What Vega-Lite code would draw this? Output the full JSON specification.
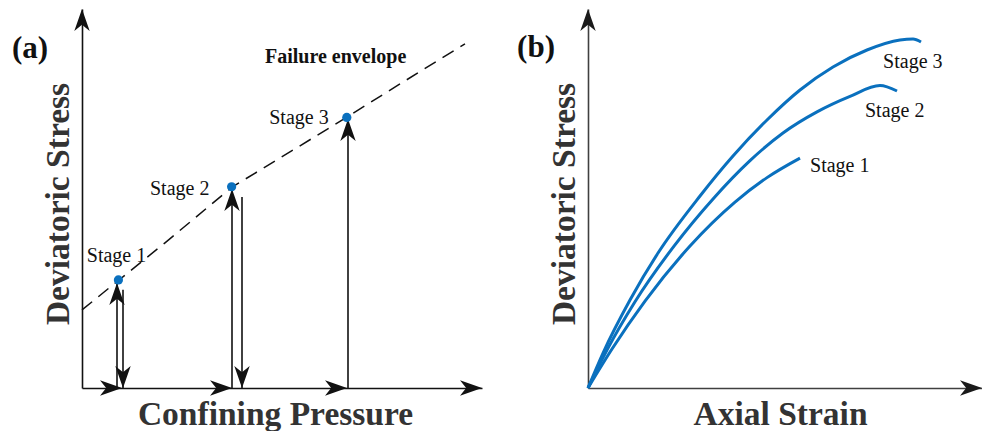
{
  "$schema": "https://vega.github.io/schema/vega-lite/v6.json",
  "padding": {"left": 12, "top": 9, "right": 0, "bottom": 0},
  "background": "white",
  "bounds": "flush",
  "spacing": 106,
  "config": {
    "view": {"stroke": null},
    "font": "Liberation Serif",
    "axis": {"grid": false, "ticks": false, "labels": false, "domainColor": "#111", "domainWidth": 1.6,
      "titleFont": "Liberation Serif", "titleFontSize": 33.5, "titleFontWeight": "bold", "titleColor": "#333"}
  },
  "datasets": {
    "envelope": [
      {"x": 0, "y": 20.6}, {"x": 9.25, "y": 28.5}, {"x": 20.75, "y": 38.3}, {"x": 37.5, "y": 53.0},
      {"x": 54.5, "y": 63.9}, {"x": 66.25, "y": 71.5}, {"x": 79, "y": 79.9}, {"x": 95.75, "y": 90.8}
    ],
    "dots": [
      {"stage": "Stage 1", "x": 9.1, "y": 28.5},
      {"stage": "Stage 2", "x": 37.4, "y": 53.1},
      {"stage": "Stage 3", "x": 66.2, "y": 71.4}
    ],
    "segA": [
      {"x": 8.75, "y": 0, "x2": 8.75, "y2": 27.7},
      {"x": 10.25, "y": 25.9, "x2": 10.25, "y2": 0},
      {"x": 37.5, "y": 0, "x2": 37.5, "y2": 52.5},
      {"x": 40, "y": 50.4, "x2": 40, "y2": 0},
      {"x": 66.5, "y": 0, "x2": 66.5, "y2": 71.0}
    ],
    "headsA": [
      {"dir": "up", "x": 8.75, "y": 27.7},
      {"dir": "up", "x": 37.5, "y": 52.5},
      {"dir": "up", "x": 66.5, "y": 71.0},
      {"dir": "up", "x": 0, "y": 100},
      {"dir": "down", "x": 10.25, "y": 0},
      {"dir": "down", "x": 40, "y": 0},
      {"dir": "right", "x": 10, "y": 0},
      {"dir": "right", "x": 37.5, "y": 0},
      {"dir": "right", "x": 66.25, "y": 0},
      {"dir": "right", "x": 100, "y": 0}
    ],
    "labelsA": [
      {"label": "Stage 1", "x": 1.2, "y": 33.3},
      {"label": "Stage 2", "x": 17, "y": 50.9},
      {"label": "Stage 3", "x": 46.8, "y": 69.6}
    ],
    "noteA": [{"label": "Failure envelope", "x": 45.75, "y": 85.7}],
    "tagA": [{"label": "(a)", "x": -17.5, "y": 87.2}],
    "curves": [
      {"stage": "Stage 1", "x": 0, "y": 0}, {"stage": "Stage 1", "x": 6.09, "y": 10.29},
      {"stage": "Stage 1", "x": 14.47, "y": 22.93}, {"stage": "Stage 1", "x": 25.89, "y": 37.47},
      {"stage": "Stage 1", "x": 37.31, "y": 49.05}, {"stage": "Stage 1", "x": 45.43, "y": 55.51},
      {"stage": "Stage 1", "x": 53.81, "y": 60.66},
      {"stage": "Stage 2", "x": 0, "y": 0}, {"stage": "Stage 2", "x": 4.82, "y": 10.03},
      {"stage": "Stage 2", "x": 11.93, "y": 22.77}, {"stage": "Stage 2", "x": 21.83, "y": 37.44},
      {"stage": "Stage 2", "x": 31.73, "y": 49.89}, {"stage": "Stage 2", "x": 41.12, "y": 60.0},
      {"stage": "Stage 2", "x": 49.49, "y": 67.28}, {"stage": "Stage 2", "x": 58.12, "y": 72.85},
      {"stage": "Stage 2", "x": 66.5, "y": 76.94}, {"stage": "Stage 2", "x": 74.11, "y": 79.79},
      {"stage": "Stage 2", "x": 78.43, "y": 78.36},
      {"stage": "Stage 3", "x": 0, "y": 0}, {"stage": "Stage 3", "x": 3.81, "y": 9.23},
      {"stage": "Stage 3", "x": 10.66, "y": 23.22}, {"stage": "Stage 3", "x": 17.77, "y": 35.62},
      {"stage": "Stage 3", "x": 28.43, "y": 50.66}, {"stage": "Stage 3", "x": 36.8, "y": 61.21},
      {"stage": "Stage 3", "x": 45.43, "y": 70.71}, {"stage": "Stage 3", "x": 53.81, "y": 78.63},
      {"stage": "Stage 3", "x": 62.18, "y": 84.7}, {"stage": "Stage 3", "x": 70.81, "y": 89.18},
      {"stage": "Stage 3", "x": 79.19, "y": 91.82}, {"stage": "Stage 3", "x": 82.49, "y": 92.08},
      {"stage": "Stage 3", "x": 84.52, "y": 91.29}
    ],
    "headsB": [
      {"dir": "up", "x": 0, "y": 100},
      {"dir": "right", "x": 100, "y": 0}
    ],
    "labelsB": [
      {"label": "Stage 1", "x": 56.35, "y": 57.1},
      {"label": "Stage 2", "x": 70.3, "y": 71.6},
      {"label": "Stage 3", "x": 74.9, "y": 84.35}
    ],
    "tagB": [{"label": "(b)", "x": -18, "y": 87.4}]
  },
  "hconcat": [
    {
      "width": 400,
      "height": 379,
      "encoding": {
        "x": {"field": "x", "type": "quantitative", "scale": {"domain": [0, 100], "nice": false, "zero": false},
          "axis": {"title": "Confining Pressure", "titleBaseline": "alphabetic", "titlePadding": 36, "titleX": 193}},
        "y": {"field": "y", "type": "quantitative", "scale": {"domain": [0, 100], "nice": false, "zero": false},
          "axis": {"title": "Deviatoric Stress", "titleBaseline": "alphabetic", "titlePadding": 14, "titleY": 194.5}}
      },
      "layer": [
        {"data": {"name": "envelope"}, "mark": {"type": "line", "color": "#111", "strokeWidth": 1.5, "strokeDash": [13, 8]}},
        {"data": {"name": "segA"}, "mark": {"type": "rule", "color": "#111", "strokeWidth": 1.6},
          "encoding": {"x2": {"field": "x2"}, "y2": {"field": "y2"}}},
        {"data": {"name": "headsA"}, "mark": {"type": "point", "filled": true, "opacity": 1, "color": "#111", "strokeWidth": 0, "size": 1936},
          "encoding": {"shape": {"field": "dir", "type": "nominal", "legend": null,
            "scale": {"domain": ["up", "down", "right"],
              "range": ["M0,0L0.35,1L0,0.72L-0.35,1Z", "M0,0L0.35,-1L0,-0.72L-0.35,-1Z", "M0,0L-1,0.35L-0.72,0L-1,-0.35Z"]}}}},
        {"data": {"name": "dots"}, "mark": {"type": "point", "filled": true, "opacity": 1, "color": "#0a70be", "size": 85}},
        {"data": {"name": "labelsA"}, "mark": {"type": "text", "align": "left", "baseline": "alphabetic", "fontSize": 20, "color": "#111"},
          "encoding": {"text": {"field": "label"}}},
        {"data": {"name": "noteA"}, "mark": {"type": "text", "align": "left", "baseline": "alphabetic", "fontSize": 20, "fontWeight": "bold", "color": "#111"},
          "encoding": {"text": {"field": "label"}}},
        {"data": {"name": "tagA"}, "mark": {"type": "text", "align": "left", "baseline": "alphabetic", "fontSize": 31, "fontWeight": "bold", "color": "#111"},
          "encoding": {"text": {"field": "label"}}}
      ]
    },
    {
      "width": 394,
      "height": 379,
      "encoding": {
        "x": {"field": "x", "type": "quantitative", "scale": {"domain": [0, 100], "nice": false, "zero": false},
          "axis": {"title": "Axial Strain", "titleBaseline": "alphabetic", "titlePadding": 36, "titleX": 192, "domainColor": "#404040"}},
        "y": {"field": "y", "type": "quantitative", "scale": {"domain": [0, 100], "nice": false, "zero": false},
          "axis": {"title": "Deviatoric Stress", "titleBaseline": "alphabetic", "titlePadding": 14, "titleY": 194.5, "domainColor": "#404040"}}
      },
      "layer": [
        {"data": {"name": "curves"}, "mark": {"type": "line", "color": "#0a70be", "strokeWidth": 3, "interpolate": "monotone"},
          "encoding": {"detail": {"field": "stage"}}},
        {"data": {"name": "headsB"}, "mark": {"type": "point", "filled": true, "opacity": 1, "color": "#1a1a1a", "strokeWidth": 0, "size": 1936},
          "encoding": {"shape": {"field": "dir", "type": "nominal", "legend": null,
            "scale": {"domain": ["up", "down", "right"],
              "range": ["M0,0L0.35,1L0,0.72L-0.35,1Z", "M0,0L0.35,-1L0,-0.72L-0.35,-1Z", "M0,0L-1,0.35L-0.72,0L-1,-0.35Z"]}}}},
        {"data": {"name": "labelsB"}, "mark": {"type": "text", "align": "left", "baseline": "alphabetic", "fontSize": 20, "color": "#111"},
          "encoding": {"text": {"field": "label"}}},
        {"data": {"name": "tagB"}, "mark": {"type": "text", "align": "left", "baseline": "alphabetic", "fontSize": 31, "fontWeight": "bold", "color": "#111"},
          "encoding": {"text": {"field": "label"}}}
      ]
    }
  ]
}
